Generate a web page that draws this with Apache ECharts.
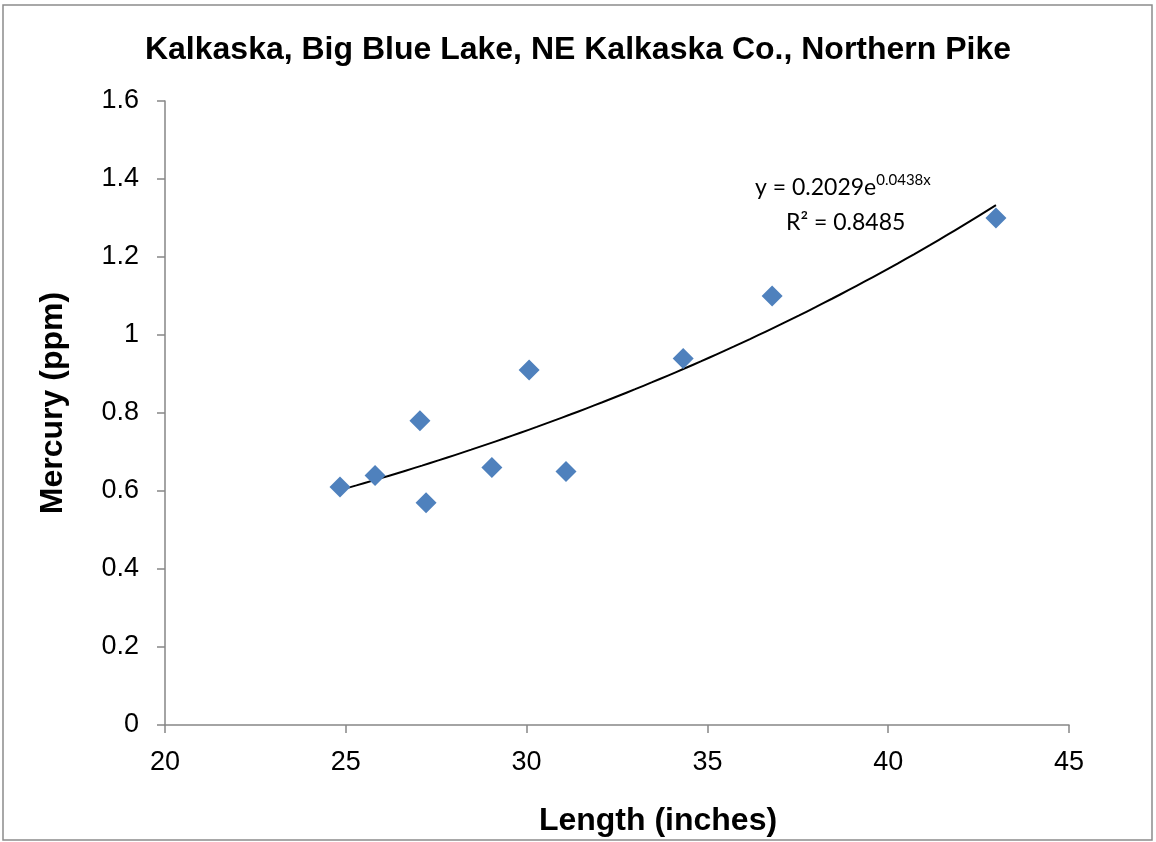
<!DOCTYPE html>
<html lang="en">
<head>
    <meta charset="utf-8">
    <title>Kalkaska, Big Blue Lake, Northern Pike</title>
    <style>
        html, body { margin: 0; padding: 0; background: #fff; }
    </style>
</head>
<body>
    <div id="main" style="width:1156px;height:842px;"></div>
    <script src="https://cdn.jsdelivr.net/npm/echarts@6/dist/echarts.min.js"></script>
    <script type="text/javascript">
        // fish length (inches) and mercury (ppm)
        var lengths = [24.84, 25.81, 27.05, 27.22, 29.04, 30.07, 31.09, 34.33, 36.79, 42.98];
        var mercury = [0.61, 0.64, 0.78, 0.57, 0.66, 0.91, 0.65, 0.94, 1.10, 1.30];

        // exponential trendline as printed on the chart
        var trendA = 0.2029;
        var trendB = 0.0438;
        var trendR2 = 0.8485;

        var xTicks = [20, 25, 30, 35, 40, 45];
        var yTicks = [0, 0.2, 0.4, 0.6, 0.8, 1, 1.2, 1.4, 1.6];

        var points = lengths.map(function (x, i) { return [x, mercury[i]]; });

        // sample the fitted curve across the data range
        var xMin = Math.min.apply(null, lengths), xMax = Math.max.apply(null, lengths);
        var trend = [];
        for (var k = 0; k <= 40; k++) {
            var x = xMin + (xMax - xMin) * k / 40;
            trend.push([x, trendA * Math.exp(trendB * x)]);
        }

        var myChart = echarts.init(document.getElementById('main'));
        var axisGrey = '#868686';
        var boldText = { fontFamily: 'Liberation Sans', fontSize: 32, fontWeight: 'bold', fill: '#000' };

        var option = {
            backgroundColor: '#fff',
            animation: false,
            title: {
                text: 'Kalkaska, Big Blue Lake, NE Kalkaska Co., Northern Pike',
                left: 'center',
                top: 29,
                textStyle: {
                    fontFamily: 'Liberation Sans',
                    fontSize: 32,
                    fontWeight: 'bold',
                    color: '#000'
                }
            },
            grid: { left: 165, right: 87, top: 101, bottom: 117 },
            xAxis: {
                type: 'value',
                min: xTicks[0],
                max: xTicks[xTicks.length - 1],
                interval: 5,
                axisLine: { lineStyle: { color: axisGrey, width: 1.5 } },
                axisTick: { show: true, inside: false, length: 8, lineStyle: { color: axisGrey, width: 1.5 } },
                axisLabel: { fontFamily: 'Liberation Sans', fontSize: 27, color: '#000', margin: 24 },
                splitLine: { show: false }
            },
            yAxis: {
                type: 'value',
                min: yTicks[0],
                max: yTicks[yTicks.length - 1],
                interval: 0.2,
                axisLine: { show: true, lineStyle: { color: axisGrey, width: 1.5 } },
                axisTick: { show: true, inside: false, length: 8, lineStyle: { color: axisGrey, width: 1.5 } },
                axisLabel: {
                    fontFamily: 'Liberation Sans', fontSize: 27, color: '#000', margin: 26,
                    formatter: function (v) { return String(Math.round(v * 10) / 10); }
                },
                splitLine: { show: false }
            },
            series: [{
                name: 'Mercury',
                type: 'scatter',
                data: points,
                symbol: 'diamond',
                symbolSize: [21, 21],
                itemStyle: { color: '#4F81BD', opacity: 1 },
                z: 3
            }, {
                name: 'Trend',
                type: 'line',
                data: trend,
                showSymbol: false,
                smooth: true,
                lineStyle: { color: '#000', width: 2 },
                z: 2
            }],
            graphic: [{
                type: 'rect',
                shape: { x: 3, y: 5, width: 1149, height: 835 },
                style: { fill: 'none', stroke: '#8c8c8c', lineWidth: 1.5 },
                silent: true
            }, {
                // x axis title
                type: 'text',
                x: 658,
                y: 821,
                style: Object.assign({ text: 'Length (inches)', align: 'center', verticalAlign: 'middle' }, boldText)
            }, {
                // y axis title
                type: 'text',
                x: 53,
                y: 403,
                rotation: Math.PI / 2,
                style: Object.assign({ text: 'Mercury (ppm)', align: 'center', verticalAlign: 'middle' }, boldText)
            }, {
                type: 'text',
                left: 755,
                top: 173,
                style: {
                    text: 'y = ' + trendA + 'e{sup|' + trendB + 'x}',
                    fontFamily: 'Lato',
                    fontSize: 23,
                    fill: '#000',
                    rich: {
                        sup: { fontFamily: 'Lato', fontSize: 15, verticalAlign: 'top', padding: [0, 0, 14, 0], fill: '#000' }
                    }
                }
            }, {
                type: 'text',
                left: 786,
                top: 211,
                style: {
                    text: 'R² = ' + trendR2,
                    fontFamily: 'Lato',
                    fontSize: 23,
                    fill: '#000'
                }
            }]
        };
        myChart.setOption(option);
    </script>
</body>
</html>
